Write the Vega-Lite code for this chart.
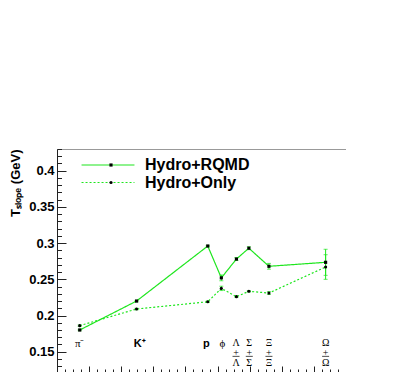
{
  "$schema": "https://vega.github.io/schema/vega-lite/v6.json",
  "width": 289,
  "height": 223,
  "autosize": {"type": "none"},
  "padding": {"left": 57, "top": 149, "right": 0, "bottom": 0},
  "background": "white",
  "config": {
    "view": {"stroke": "#999999", "strokeWidth": 1},
    "font": "Liberation Sans",
    "axisX": {"labels": false, "grid": false, "tickColor": "#222222", "domainColor": "#222222"},
    "axisY": {
      "grid": false,
      "labelFont": "Liberation Sans", "labelFontSize": 13, "labelFontWeight": "bold",
      "labelColor": "#000000", "labelPadding": 12,
      "tickColor": "#222222", "domainColor": "#222222",
      "titleFont": "Liberation Sans", "titleFontSize": 13, "titleFontWeight": "bold",
      "titleColor": "#000000", "titleAnchor": "end", "titlePadding": 6
    }
  },
  "datasets": {
    "pts": [
      {"particle": "pi-", "x": 2.83, "y": 0.180, "err": 0.001, "series": "Hydro+RQMD"},
      {"particle": "K+", "x": 9.91, "y": 0.220, "err": 0.001, "series": "Hydro+RQMD"},
      {"particle": "p", "x": 18.78, "y": 0.296, "err": 0.001, "series": "Hydro+RQMD"},
      {"particle": "phi", "x": 20.47, "y": 0.252, "err": 0.004, "series": "Hydro+RQMD"},
      {"particle": "Lambda", "x": 22.35, "y": 0.278, "err": 0.002, "series": "Hydro+RQMD"},
      {"particle": "Sigma", "x": 23.9, "y": 0.293, "err": 0.002, "series": "Hydro+RQMD"},
      {"particle": "Xi", "x": 26.4, "y": 0.268, "err": 0.004, "series": "Hydro+RQMD"},
      {"particle": "Omega", "x": 33.46, "y": 0.2735, "err": 0.018, "series": "Hydro+RQMD"},
      {"particle": "pi-", "x": 2.83, "y": 0.186, "err": 0.001, "series": "Hydro+Only"},
      {"particle": "K+", "x": 9.91, "y": 0.209, "err": 0.001, "series": "Hydro+Only"},
      {"particle": "p", "x": 18.78, "y": 0.219, "err": 0.001, "series": "Hydro+Only"},
      {"particle": "phi", "x": 20.47, "y": 0.2375, "err": 0.003, "series": "Hydro+Only"},
      {"particle": "Lambda", "x": 22.35, "y": 0.226, "err": 0.001, "series": "Hydro+Only"},
      {"particle": "Sigma", "x": 23.9, "y": 0.2335, "err": 0.001, "series": "Hydro+Only"},
      {"particle": "Xi", "x": 26.4, "y": 0.231, "err": 0.002, "series": "Hydro+Only"},
      {"particle": "Omega", "x": 33.46, "y": 0.267, "err": 0.017, "series": "Hydro+Only"}
    ],
    "greek": [
      {"label": "π⁻", "x": 2.83},
      {"label": "ϕ", "x": 20.6}
    ],
    "stacked": [
      {"label": "Λ\n+\nΛ", "x": 22.3},
      {"label": "Σ\n+\nΣ", "x": 23.95},
      {"label": "Ξ\n+\nΞ", "x": 26.4},
      {"label": "Ω\n+\nΩ", "x": 33.46}
    ],
    "latin": [
      {"label": "K⁺", "x": 10.3},
      {"label": "p", "x": 18.6}
    ]
  },
  "encoding": {
    "x": {
      "field": "x", "type": "quantitative",
      "scale": {"domain": [0, 36], "nice": false, "zero": false},
      "axis": {
        "title": null,
        "values": [0,1,2,3,4,5,6,7,8,9,10,11,12,13,14,15,16,17,18,19,20,21,22,23,24,25,26,27,28,29,30,31,32,33,34,35,36],
        "tickSize": {"condition": {"test": "datum.value % 4 === 0", "value": -6}, "value": -3}
      }
    }
  },
  "layer": [
    {
      "data": {"name": "pts"},
      "mark": {"type": "line", "color": "#1ee61e", "strokeWidth": 1.2},
      "encoding": {
        "y": {
          "field": "y", "type": "quantitative",
          "scale": {"domain": [0.122, 0.43], "nice": false, "zero": false},
          "axis": {
            "title": "Tₛₗₒₚₑ (GeV)",
            "values": [0.13,0.14,0.15,0.16,0.17,0.18,0.19,0.2,0.21,0.22,0.23,0.24,0.25,0.26,0.27,0.28,0.29,0.3,0.31,0.32,0.33,0.34,0.35,0.36,0.37,0.38,0.39,0.4,0.41,0.42,0.43],
            "tickSize": {"condition": {"test": "abs(datum.value*20 - round(datum.value*20)) < 0.001", "value": -9}, "value": -4.5},
            "labelExpr": "abs(datum.value*20 - round(datum.value*20)) < 0.001 ? format(datum.value, '.2~f') : ''"
          }
        },
        "strokeDash": {
          "field": "series", "type": "nominal",
          "scale": {"domain": ["Hydro+RQMD", "Hydro+Only"], "range": [[1, 0], [2, 2]]},
          "legend": {
            "title": null, "orient": "none", "legendX": 43, "legendY": 8,
            "symbolType": "M-10,0H10", "symbolSize": 28, "symbolStrokeColor": "#1ee61e",
            "symbolStrokeWidth": 1.2,
            "labelFont": "Liberation Sans", "labelFontSize": 16, "labelFontWeight": "bold",
            "labelColor": "#000000", "labelOffset": 29, "rowPadding": 1.5
          }
        }
      }
    },
    {
      "data": {"name": "pts"},
      "mark": {"type": "errorbar", "color": "#1ee61e", "ticks": {"size": 4}},
      "encoding": {
        "y": {
          "field": "y", "type": "quantitative",
          "axis": {
            "title": "Tₛₗₒₚₑ (GeV)",
            "values": [0.13,0.14,0.15,0.16,0.17,0.18,0.19,0.2,0.21,0.22,0.23,0.24,0.25,0.26,0.27,0.28,0.29,0.3,0.31,0.32,0.33,0.34,0.35,0.36,0.37,0.38,0.39,0.4,0.41,0.42,0.43],
            "tickSize": {"condition": {"test": "abs(datum.value*20 - round(datum.value*20)) < 0.001", "value": -9}, "value": -4.5},
            "labelExpr": "abs(datum.value*20 - round(datum.value*20)) < 0.001 ? format(datum.value, '.2~f') : ''"
          }
        },
        "yError": {"field": "err"},
        "detail": {"field": "series"}
      }
    },
    {
      "data": {"name": "pts"},
      "mark": {"type": "point", "filled": true, "color": "#000000", "size": 10, "opacity": 1},
      "encoding": {
        "y": {
          "field": "y", "type": "quantitative",
          "axis": {
            "title": "Tₛₗₒₚₑ (GeV)",
            "values": [0.13,0.14,0.15,0.16,0.17,0.18,0.19,0.2,0.21,0.22,0.23,0.24,0.25,0.26,0.27,0.28,0.29,0.3,0.31,0.32,0.33,0.34,0.35,0.36,0.37,0.38,0.39,0.4,0.41,0.42,0.43],
            "tickSize": {"condition": {"test": "abs(datum.value*20 - round(datum.value*20)) < 0.001", "value": -9}, "value": -4.5},
            "labelExpr": "abs(datum.value*20 - round(datum.value*20)) < 0.001 ? format(datum.value, '.2~f') : ''"
          }
        },
        "shape": {
          "field": "series", "type": "nominal", "sort": "descending",
          "scale": {"range": ["square", "circle"]},
          "legend": {
            "title": null, "orient": "none", "legendX": 46, "legendY": 8,
            "symbolSize": 10, "symbolFillColor": "#000000",
            "labelExpr": "' '", "labelFontSize": 16, "labelFontWeight": "bold", "rowPadding": 1.5
          }
        }
      }
    },
    {
      "data": {"name": "greek"},
      "mark": {"type": "text", "font": "Liberation Serif", "fontSize": 11, "baseline": "top", "align": "center", "color": "#000000"},
      "encoding": {
        "y": {
          "datum": 0.1694, "type": "quantitative",
          "axis": {
            "title": "Tₛₗₒₚₑ (GeV)",
            "values": [0.13,0.14,0.15,0.16,0.17,0.18,0.19,0.2,0.21,0.22,0.23,0.24,0.25,0.26,0.27,0.28,0.29,0.3,0.31,0.32,0.33,0.34,0.35,0.36,0.37,0.38,0.39,0.4,0.41,0.42,0.43],
            "tickSize": {"condition": {"test": "abs(datum.value*20 - round(datum.value*20)) < 0.001", "value": -9}, "value": -4.5},
            "labelExpr": "abs(datum.value*20 - round(datum.value*20)) < 0.001 ? format(datum.value, '.2~f') : ''"
          }
        },
        "text": {"field": "label"}
      }
    },
    {
      "data": {"name": "stacked"},
      "mark": {"type": "text", "font": "Liberation Serif", "fontSize": 10, "baseline": "top", "align": "center", "lineBreak": "\n", "lineHeight": 10, "color": "#000000"},
      "encoding": {
        "y": {
          "datum": 0.1694, "type": "quantitative",
          "axis": {
            "title": "Tₛₗₒₚₑ (GeV)",
            "values": [0.13,0.14,0.15,0.16,0.17,0.18,0.19,0.2,0.21,0.22,0.23,0.24,0.25,0.26,0.27,0.28,0.29,0.3,0.31,0.32,0.33,0.34,0.35,0.36,0.37,0.38,0.39,0.4,0.41,0.42,0.43],
            "tickSize": {"condition": {"test": "abs(datum.value*20 - round(datum.value*20)) < 0.001", "value": -9}, "value": -4.5},
            "labelExpr": "abs(datum.value*20 - round(datum.value*20)) < 0.001 ? format(datum.value, '.2~f') : ''"
          }
        },
        "text": {"field": "label"}
      }
    },
    {
      "data": {"name": "stacked"},
      "mark": {"type": "tick", "orient": "horizontal", "color": "#000000", "size": 7, "thickness": 1},
      "encoding": {
        "y": {
          "datum": 0.1436, "type": "quantitative",
          "axis": {
            "title": "Tₛₗₒₚₑ (GeV)",
            "values": [0.13,0.14,0.15,0.16,0.17,0.18,0.19,0.2,0.21,0.22,0.23,0.24,0.25,0.26,0.27,0.28,0.29,0.3,0.31,0.32,0.33,0.34,0.35,0.36,0.37,0.38,0.39,0.4,0.41,0.42,0.43],
            "tickSize": {"condition": {"test": "abs(datum.value*20 - round(datum.value*20)) < 0.001", "value": -9}, "value": -4.5},
            "labelExpr": "abs(datum.value*20 - round(datum.value*20)) < 0.001 ? format(datum.value, '.2~f') : ''"
          }
        }
      }
    },
    {
      "data": {"name": "latin"},
      "mark": {"type": "text", "font": "Liberation Sans", "fontSize": 11, "fontWeight": "bold", "baseline": "top", "align": "center", "color": "#000000"},
      "encoding": {
        "y": {
          "datum": 0.1694, "type": "quantitative",
          "axis": {
            "title": "Tₛₗₒₚₑ (GeV)",
            "values": [0.13,0.14,0.15,0.16,0.17,0.18,0.19,0.2,0.21,0.22,0.23,0.24,0.25,0.26,0.27,0.28,0.29,0.3,0.31,0.32,0.33,0.34,0.35,0.36,0.37,0.38,0.39,0.4,0.41,0.42,0.43],
            "tickSize": {"condition": {"test": "abs(datum.value*20 - round(datum.value*20)) < 0.001", "value": -9}, "value": -4.5},
            "labelExpr": "abs(datum.value*20 - round(datum.value*20)) < 0.001 ? format(datum.value, '.2~f') : ''"
          }
        },
        "text": {"field": "label"}
      }
    }
  ]
}
